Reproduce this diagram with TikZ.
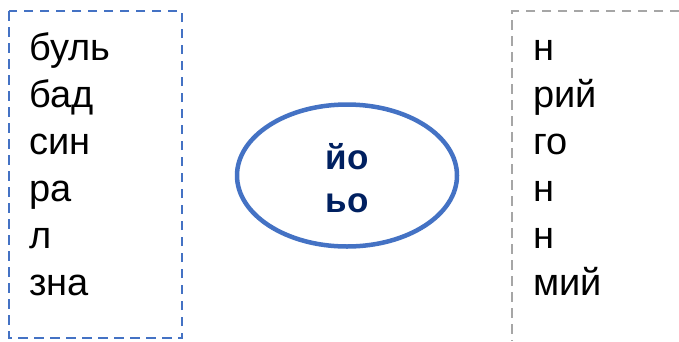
\documentclass[tikz,border=0pt]{standalone}
\usepackage{fontspec}
\setmainfont{Liberation Sans}
\usetikzlibrary{shapes.geometric}
\definecolor{boxblue}{HTML}{4472C4}
\definecolor{boxgray}{HTML}{A6A6A6}
\definecolor{navy}{HTML}{002060}
\tikzset{
  word/.style={anchor=base west, inner sep=0pt, font=\fontsize{38}{44}\selectfont, text=black},
  leftbox/.style={draw=boxblue, line width=2pt, dash pattern=on 9.5pt off 6.5pt},
  rightbox/.style={draw=boxgray, line width=2pt, dash pattern=on 9.5pt off 6.5pt},
  oval/.style={ellipse, draw=boxblue, line width=4.5pt, minimum width=220pt, minimum height=142pt, inner sep=0pt},
  ovaltext/.style={anchor=base, inner sep=0pt, text=navy, font=\bfseries\fontsize{35}{42}\selectfont},
}
\begin{document}
\begin{tikzpicture}[x=1pt,y=-1pt]
\useasboundingbox[fill=white] (0,0) rectangle (679,341);
\draw[leftbox] (9,11) rectangle (182,338);
\draw[rightbox] (679,11) -- (512,11) -- (512,341);
\node[word] (l1) at (29,60) {буль};
\node[word] (l2) at (29,107) {бад};
\node[word] (l3) at (29,154) {син};
\node[word] (l4) at (29,201) {ра};
\node[word] (l5) at (29,248) {л};
\node[word] (l6) at (29,295) {зна};
\node[word] (r1) at (533,60) {н};
\node[word] (r2) at (533,107) {рий};
\node[word] (r3) at (533,154) {го};
\node[word] (r4) at (533,201) {н};
\node[word] (r5) at (533,248) {н};
\node[word] (r6) at (533,295) {мий};
\node[oval] (e) at (347,175.5) {};
\node[ovaltext] (t1) at (347,169) {йо};
\node[ovaltext] (t2) at (347,212) {ьо};
\end{tikzpicture}
\end{document}
